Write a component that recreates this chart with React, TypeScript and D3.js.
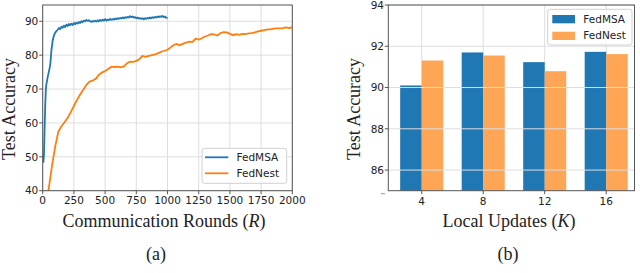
import React from "react"
import * as d3 from "d3"

// ---- data: panel (a) ----
const msaRounds = [5, 10, 15, 20, 25, 30, 40, 50, 60, 70, 80, 90, 100, ...d3.range(110, 1001, 10)]
const msaAcc = [
  48.3, 50.5, 58, 65, 69.8, 71.5, 73.5, 75.2, 77, 81.5, 84.3, 85.8, 86.6,
  87.1, 87.5, 88.0, 87.7, 88.4, 88.1, 88.7, 88.3, 89.0, 88.6,
  89.2, 88.8, 89.3, 88.9, 89.5, 89.1, 89.6, 89.3, 89.8, 89.5,
  90.0, 89.7, 90.2, 90.0, 90.4, 90.1, 90.3, 90.0, 89.8, 90.1,
  89.9, 90.2, 89.9, 90.3, 90.0, 90.4, 90.1, 90.5, 90.2, 90.6,
  90.2, 90.5, 90.3, 90.7, 90.4, 90.6, 90.5, 90.8, 90.6, 90.9,
  90.7, 91.0, 90.8, 91.1, 90.9, 91.2, 91.0, 91.3, 91.1, 91.5,
  91.2, 91.4, 91.1, 91.2, 90.9, 91.1, 90.8, 90.9, 90.7, 90.9,
  90.6, 90.9, 90.7, 91.0, 90.8, 91.1, 90.9, 91.2, 91.0, 91.3,
  91.1, 91.4, 91.2, 91.5, 91.3, 91.6, 91.2, 91.4, 91.0, 91.1,
]
const nestRounds = [40, ...d3.range(75, 2001, 25)]
const nestAcc = [
  38.5, 47.5, 53, 57.4, 59, 60.2, 61.5, 63.2, 65, 66.8, 68.4, 69.8, 71.2, 72.2,
  72.5, 73.0, 74.2, 74.9, 75.3, 75.9, 76.6, 76.5, 76.6, 76.4, 76.7, 77.6, 78.1,
  78.0, 78.3, 78.8, 79.8, 79.5, 79.8, 80.0, 80.2, 80.6, 81.0, 81.3, 81.6, 82.3,
  83.0, 83.3, 82.9, 83.4, 83.7, 84.0, 83.9, 84.9, 84.6, 85.0, 85.5, 85.8, 86.2,
  86.1, 85.8, 86.5, 86.8, 86.7, 86.3, 85.9, 86.2, 86.0, 86.3, 86.2, 86.4, 86.5,
  86.7, 87.0, 87.2, 87.4, 87.6, 87.6, 87.8, 87.9, 87.9, 88.0, 88.2, 88.0, 88.3,
]
const roundTicks = [0, 250, 500, 750, 1000, 1250, 1500, 1750, 2000]
const accTicksA = [40, 50, 60, 70, 80, 90]

// ---- data: panel (b) ----
const localUpdates = ["4", "8", "12", "16"]
const msaBar = [90.1, 91.7, 91.23, 91.73]
const nestBar = [91.31, 91.55, 90.79, 91.62]
const accTicksB = [86, 88, 90, 92, 94]

const BLUE = "#1f77b4"
const ORANGE = "#ff7f0e"
const ORANGE_BAR = "#ffa556"
const GRID = "#dedede"
const FRAME = "#555"
const tickFont = "DejaVu Sans, sans-serif"
const labelFont = "Liberation Serif, Times New Roman, serif"

const A = { left: 42.7, right: 292.3, top: 5, bottom: 190.7 }
const B = { left: 388.3, right: 634.5, top: 5, bottom: 190.7 }

function PanelA() {
  const x = d3.scaleLinear().domain([0, 2000]).range([A.left, A.right])
  const y = d3.scaleLinear().domain([40, 94.8]).range([A.bottom, A.top])
  const line = d3.line<number>()
  const msaPath = line(msaRounds.map((r, i) => [x(r), y(msaAcc[i])]) as any)
  const nestPath = line(nestRounds.map((r, i) => [x(r), y(nestAcc[i])]) as any)
  return (
    <g>
      <defs>
        <clipPath id="clipA">
          <rect x={A.left} y={A.top} width={A.right - A.left} height={A.bottom - A.top} />
        </clipPath>
      </defs>
      {roundTicks.map(t => (
        <line key={"gx" + t} x1={x(t)} x2={x(t)} y1={A.top} y2={A.bottom} stroke={GRID} strokeWidth={1} />
      ))}
      {accTicksA.map(t => (
        <line key={"gy" + t} x1={A.left} x2={A.right} y1={y(t)} y2={y(t)} stroke={GRID} strokeWidth={1} />
      ))}
      <g clipPath="url(#clipA)">
        <path d={msaPath || ""} fill="none" stroke={BLUE} strokeWidth={1.8} strokeLinejoin="round" />
        <path d={nestPath || ""} fill="none" stroke={ORANGE} strokeWidth={1.8} strokeLinejoin="round" />
      </g>
      <rect x={A.left} y={A.top} width={A.right - A.left} height={A.bottom - A.top} fill="none" stroke={FRAME} strokeWidth={1} />
      {roundTicks.map(t => (
        <g key={"tx" + t}>
          <line x1={x(t)} x2={x(t)} y1={A.bottom} y2={A.bottom + 3.5} stroke={FRAME} />
          <text x={x(t)} y={203.8} textAnchor="middle" fontSize={10.5} fontFamily={tickFont} fill="#222">{t}</text>
        </g>
      ))}
      {accTicksA.map(t => (
        <g key={"ty" + t}>
          <line x1={A.left - 3.5} x2={A.left} y1={y(t)} y2={y(t)} stroke={FRAME} />
          <text x={38.3} y={y(t)} dy="0.36em" textAnchor="end" fontSize={10.5} fontFamily={tickFont} fill="#222">{t}</text>
        </g>
      ))}
      {/* legend */}
      <rect x={202} y={148.3} width={84.7} height={35} rx={2.5} fill="white" fillOpacity={0.8} stroke="#d0d0d0" strokeWidth={1} />
      <line x1={205} x2={228.3} y1={157.3} y2={157.3} stroke={BLUE} strokeWidth={1.8} />
      <text x={236.5} y={161} fontSize={10.5} fontFamily={tickFont} fill="#222">FedMSA</text>
      <line x1={205} x2={228.3} y1={173.3} y2={173.3} stroke={ORANGE} strokeWidth={1.8} />
      <text x={236.5} y={177} fontSize={10.5} fontFamily={tickFont} fill="#222">FedNest</text>
      {/* labels */}
      <text x={164} y={227.3} textAnchor="middle" fontSize={18} fontFamily={labelFont} fill="#222">
        Communication Rounds (<tspan fontStyle="italic">R</tspan>)
      </text>
      <text transform="translate(14.5,109) rotate(-90)" textAnchor="middle" fontSize={18} fontFamily={labelFont} fill="#222">
        Test Accuracy
      </text>
      <text x={156} y={260} textAnchor="middle" fontSize={18} fontFamily={labelFont} fill="#222">(a)</text>
    </g>
  )
}

function PanelB() {
  const x = d3.scaleLinear().domain([-0.543, 3.46]).range([B.left, B.right])
  const y = d3.scaleLinear().domain([85, 94]).range([B.bottom, B.top])
  const w = 0.35
  return (
    <g>
      {localUpdates.map((k, i) => (
        <line key={"gx" + k} x1={x(i)} x2={x(i)} y1={B.top} y2={B.bottom} stroke={GRID} strokeWidth={1} />
      ))}
      {msaBar.map((v, i) => (
        <rect key={"m" + i} x={x(i - w)} y={y(v)} width={x(w) - x(0)} height={y(85) - y(v)} fill={BLUE} />
      ))}
      {nestBar.map((v, i) => (
        <rect key={"n" + i} x={x(i)} y={y(v)} width={x(w) - x(0)} height={y(85) - y(v)} fill={ORANGE_BAR} />
      ))}
      {accTicksB.map(t => (
        <line key={"gy" + t} x1={B.left} x2={B.right} y1={y(t)} y2={y(t)} stroke={GRID} strokeWidth={1} />
      ))}
      <rect x={B.left} y={B.top} width={B.right - B.left} height={B.bottom - B.top} fill="none" stroke={FRAME} strokeWidth={1} />
      {localUpdates.map((k, i) => (
        <g key={"tx" + k}>
          <line x1={x(i)} x2={x(i)} y1={B.bottom} y2={B.bottom + 3.5} stroke={FRAME} />
          <text x={x(i)} y={204.5} textAnchor="middle" fontSize={10.5} fontFamily={tickFont} fill="#222">{k}</text>
        </g>
      ))}
      {accTicksB.map(t => (
        <g key={"ty" + t}>
          <line x1={B.left - 3.5} x2={B.left} y1={y(t)} y2={y(t)} stroke={FRAME} />
          <text x={384} y={y(t)} dy="0.36em" textAnchor="end" fontSize={10.5} fontFamily={tickFont} fill="#222">{t}</text>
        </g>
      ))}
      <text x={383} y={196} textAnchor="middle" fontSize={7} fontFamily={tickFont} fill="#444">~</text>
      {/* legend */}
      <rect x={547.7} y={9.3} width={84.3} height={35.7} rx={2.5} fill="white" fillOpacity={0.8} stroke="#d0d0d0" strokeWidth={1} />
      <rect x={552.3} y={15} width={22.7} height={8.3} fill={BLUE} />
      <text x={583.3} y={22.8} fontSize={10.5} fontFamily={tickFont} fill="#222">FedMSA</text>
      <rect x={552.3} y={31.7} width={22.7} height={8.3} fill={ORANGE_BAR} />
      <text x={583.3} y={39.3} fontSize={10.5} fontFamily={tickFont} fill="#222">FedNest</text>
      {/* labels */}
      <text x={509} y={227.3} textAnchor="middle" fontSize={18} fontFamily={labelFont} fill="#222">
        Local Updates (<tspan fontStyle="italic">K</tspan>)
      </text>
      <text transform="translate(360,109) rotate(-90)" textAnchor="middle" fontSize={18} fontFamily={labelFont} fill="#222">
        Test Accuracy
      </text>
      <text x={508} y={260} textAnchor="middle" fontSize={18} fontFamily={labelFont} fill="#222">(b)</text>
    </g>
  )
}

export default function App() {
  return (
    <svg width={640} height={273} style={{ position: "absolute", left: 0, top: 0, background: "white" }}>
      <PanelA />
      <PanelB />
    </svg>
  )
}
